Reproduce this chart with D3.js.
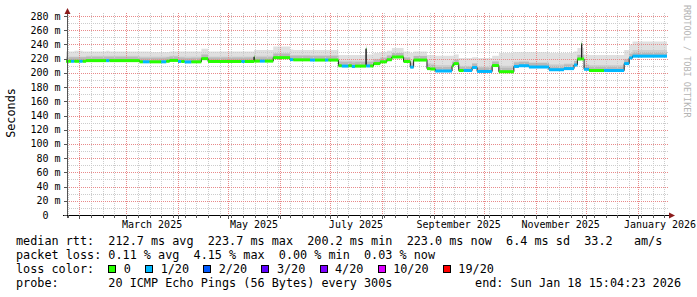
<!DOCTYPE html>
<head>
  <meta charset="utf-8" />
  <script src="https://cdn.jsdelivr.net/npm/d3@7"></script>
  <style>
    body { margin: 0; background: #fff; }
    svg { display: block; font-family: "DejaVu Sans Mono", monospace; }
  </style>
</head>
<body>
  <svg width="697" height="297"></svg>
  <script>
    // time window of the graph
    const startTime = new Date(2025, 0, 24, 14, 0);
    const endTime = new Date(2026, 0, 18, 15, 4, 23);

    // step data: each value holds from its date to the next one
    const segStart = [
      "2025-01-24", "2025-01-27", "2025-01-29", "2025-02-01", "2025-02-03", "2025-02-05",
      "2025-02-17", "2025-02-19", "2025-03-09", "2025-03-11", "2025-03-15", "2025-03-22",
      "2025-03-25", "2025-03-27", "2025-04-01", "2025-04-03", "2025-04-05", "2025-04-09",
      "2025-04-15", "2025-04-19", "2025-05-09", "2025-05-11", "2025-05-16 12:00", "2025-05-16 16:00",
      "2025-05-20", "2025-05-23", "2025-05-28", "2025-06-07", "2025-06-09", "2025-06-19",
      "2025-06-22", "2025-06-28", "2025-06-30", "2025-07-06", "2025-07-08", "2025-07-12",
      "2025-07-14", "2025-07-16", "2025-07-22 12:00", "2025-07-22 15:00", "2025-07-25", "2025-07-27",
      "2025-07-31", "2025-08-04", "2025-08-07", "2025-08-14", "2025-08-18", "2025-08-20",
      "2025-08-28", "2025-08-30", "2025-09-02", "2025-09-12", "2025-09-13", "2025-09-16",
      "2025-09-19", "2025-09-24", "2025-09-27", "2025-10-06", "2025-10-10", "2025-10-19",
      "2025-10-22", "2025-10-28", "2025-11-09", "2025-11-18", "2025-11-24", "2025-11-26",
      "2025-11-28 12:00", "2025-11-28 15:00", "2025-11-30", "2025-12-03", "2025-12-12", "2025-12-24",
      "2025-12-27", "2025-12-29"
    ];
    // median rtt in ms
    const median = [
      216.3, 216.3, 216.3, 216.3, 216.3, 217.2,
      217.2, 217.2, 215.5, 215.5, 215.5, 215.5,
      216.3, 217.5, 216.0, 216.0, 215.3, 215.5,
      220.0, 216.0, 216.0, 216.0, 222.5, 216.5,
      216.5, 216.5, 221.4, 218.6, 218.3, 218.0,
      218.0, 218.0, 218.0, 210.0, 209.5, 210.0,
      209.0, 209.5, 234.0, 209.7, 209.7, 213.0,
      215.5, 218.5, 222.3, 216.0, 208.0, 218.0,
      206.0, 205.4, 202.6, 210.0, 213.0, 203.3,
      203.3, 207.5, 202.0, 210.3, 201.6, 209.0,
      210.0, 208.2, 204.4, 206.0, 211.0, 219.5,
      241.0, 219.5, 205.0, 203.3, 203.3, 213.0,
      221.0, 223.5
    ];
    // highest ping (top of the smoke)
    const pingMax = [
      230, 230, 231, 231, 230, 230,
      231, 230, 230, 230, 229, 229,
      229, 230, 230, 230, 230, 230,
      234, 230, 230, 230, 232, 232,
      232, 232, 237, 233, 232, 232,
      232, 232, 232, 225, 225, 225,
      225, 225, 238, 226, 226, 228,
      229, 231, 235, 230, 228, 230,
      225, 225, 224, 224, 226, 221,
      221, 222, 221, 224, 228, 229,
      229, 229, 228, 228, 230, 235,
      245, 235, 226, 225, 225, 232,
      240, 244
    ];
    // upper quartile ping (top of the darker smoke)
    const pingQ3 = [
      223, 223, 223, 223, 223, 224,
      224, 224, 223, 223, 223, 223,
      223, 224, 223, 223, 223, 223,
      227, 223, 223, 223, 226, 224,
      224, 224, 228, 225, 225, 225,
      225, 225, 225, 217, 217, 217,
      217, 217, 236, 217, 217, 220,
      222, 225, 228, 222, 216, 224,
      214, 213, 211, 216, 218, 210,
      210, 213, 209, 216, 210, 216,
      216, 215, 212, 213, 217, 226,
      243, 226, 212, 211, 211, 220,
      228, 232
    ];
    // index into lossColors
    const lossIdx = [
      0, 1, 0, 1, 0, 0,
      1, 0, 0, 1, 0, 1,
      0, 0, 1, 0, 1, 0,
      0, 0, 1, 0, 0, 0,
      1, 0, 0, 1, 0, 1,
      0, 1, 0, 0, 1, 0,
      1, 0, 0, 1, 0, 0,
      0, 0, 0, 0, 1, 0,
      0, 0, 1, 0, 0, 0,
      1, 1, 1, 0, 0, 1,
      1, 1, 1, 1, 1, 0,
      0, 0, 1, 0, 1, 1,
      1, 1
    ];

    const lossLabels = ["0", "1/20", "2/20", "3/20", "4/20", "10/20", "19/20"];
    const lossColors = ["#26ff00", "#00b8ff", "#0059ff", "#5e00ff", "#7e00ff", "#dd00ff", "#ff0000"];
    const yTicks = [0, 20, 40, 60, 80, 100, 120, 140, 160, 180, 200, 220, 240, 260, 280];

    const legendRows = [
      "median rtt:  212.7 ms avg  223.7 ms max  200.2 ms min  223.0 ms now  6.4 ms sd  33.2   am/s",
      "packet loss: 0.11 % avg  4.15 % max  0.00 % min  0.03 % now",
      "loss color:",
      "probe:       20 ICMP Echo Pings (56 Bytes) every 300s"
    ];
    const endLabel = "end: Sun Jan 18 15:04:23 2026";

    const parseDay = d3.timeParse("%Y-%m-%d");
    const parseHM = d3.timeParse("%Y-%m-%d %H:%M");
    const toDate = s => s.length > 10 ? parseHM(s) : parseDay(s);

    const plotL = 67, plotR = 667, plotB = 215, plotT = 16;
    const x = d3.scaleTime().domain([startTime, endTime]).range([plotL, plotR]);
    const y = d3.scaleLinear().domain([0, 280]).range([plotB, plotT]);

    const pts = segStart.map((s, i) => ({
      t: toDate(s), med: median[i], max: pingMax[i], q3: pingQ3[i], loss: lossIdx[i]
    }));
    const stepPts = pts.concat([Object.assign({}, pts[pts.length - 1], { t: endTime })]);

    const svg = d3.select("svg");
    svg.append("rect").attr("width", 697).attr("height", 297).attr("fill", "#fff");

    // smoke
    const smoke = (hi) => d3.area().curve(d3.curveStepAfter)
      .x(d => x(d.t)).y0(d => y(d.med)).y1(hi);
    svg.append("path").datum(stepPts).attr("fill", "#e0e0e0").attr("d", smoke(d => y(d.max)));
    svg.append("path").datum(stepPts).attr("fill", "#cfcfcf").attr("d", smoke(d => y(d.q3)));
    svg.append("path").datum(stepPts).attr("fill", "#b9b9b9").attr("d", smoke(d => y(d.med) - 4));

    // grid, drawn over the smoke
    const grid = svg.append("g").attr("shape-rendering", "crispEdges");
    const weeks = d3.timeSaturday.range(startTime, endTime);
    const months = d3.timeMonth.range(startTime, endTime);
    grid.selectAll(".wk").data(weeks).join("line")
      .attr("x1", d => Math.round(x(d)) + 0.5).attr("x2", d => Math.round(x(d)) + 0.5)
      .attr("y1", 13).attr("y2", plotB)
      .attr("stroke", "#cccccc").attr("stroke-dasharray", "1,1");
    const minorY = d3.range(10, 281, 20);
    grid.selectAll(".hy").data(minorY).join("line")
      .attr("x1", plotL).attr("x2", plotR + 1)
      .attr("y1", d => Math.round(y(d)) + 0.5).attr("y2", d => Math.round(y(d)) + 0.5)
      .attr("stroke", "#cccccc").attr("stroke-dasharray", "1,1");
    grid.selectAll(".mo").data(months).join("line")
      .attr("x1", d => Math.round(x(d)) + 0.5).attr("x2", d => Math.round(x(d)) + 0.5)
      .attr("y1", 13).attr("y2", plotB)
      .attr("stroke", "#e88a8a").attr("stroke-dasharray", "1,1");
    grid.selectAll(".my").data(yTicks.slice(1)).join("line")
      .attr("x1", plotL).attr("x2", plotR + 1)
      .attr("y1", d => Math.round(y(d)) + 0.5).attr("y2", d => Math.round(y(d)) + 0.5)
      .attr("stroke", "#e88a8a").attr("stroke-dasharray", "1,1");

    // median line (only the jumps stay visible) and the loss coloured band
    svg.append("path").datum(stepPts)
      .attr("fill", "none").attr("stroke", "#202020").attr("stroke-width", 1)
      .attr("d", d3.line().curve(d3.curveStepAfter).x(d => x(d.t)).y(d => y(d.med)));
    svg.append("g").selectAll("rect").data(pts).join("rect")
      .attr("x", d => x(d.t))
      .attr("width", (d, i) => x(stepPts[i + 1].t) - x(d.t))
      .attr("y", d => y(d.med) - 1.5)
      .attr("height", 3)
      .attr("fill", d => lossColors[d.loss]);

    // axes
    const ax = svg.append("g").attr("shape-rendering", "crispEdges");
    ax.append("line").attr("x1", plotL + 0.5).attr("x2", plotL + 0.5).attr("y1", 13).attr("y2", 218)
      .attr("stroke", "#555");
    ax.append("line").attr("x1", 63).attr("x2", 669).attr("y1", plotB + 0.5).attr("y2", plotB + 0.5)
      .attr("stroke", "#000");
    ax.selectAll(".yt").data(yTicks).join("line")
      .attr("x1", 63.5).attr("x2", plotL)
      .attr("y1", d => Math.round(y(d)) + 0.5).attr("y2", d => Math.round(y(d)) + 0.5)
      .attr("stroke", "#555");
    ax.selectAll(".wt").data(weeks).join("line")
      .attr("x1", d => Math.round(x(d)) + 0.5).attr("x2", d => Math.round(x(d)) + 0.5)
      .attr("y1", plotB).attr("y2", plotB + 2.5).attr("stroke", "#555");
    ax.selectAll(".mt").data(months).join("line")
      .attr("x1", d => Math.round(x(d)) + 0.5).attr("x2", d => Math.round(x(d)) + 0.5)
      .attr("y1", plotB).attr("y2", plotB + 3.5).attr("stroke", "#555");

    // arrows
    svg.append("path").attr("fill", "#8b1c1c")
      .attr("d", `M${plotL + 0.5},8 L${plotL + 3.5},14 L${plotL - 2.5},14 Z`);
    svg.append("path").attr("fill", "#8b1c1c")
      .attr("d", `M675,${plotB + 0.5} L669,${plotB - 2.5} L669,${plotB + 3.5} Z`);

    // y labels
    svg.append("g").selectAll("text").data(yTicks).join("text")
      .attr("x", d => d === 0 ? 48.5 : 60.5)
      .attr("y", d => y(d) + 3.5)
      .attr("text-anchor", "end")
      .attr("font-size", "10px").attr("fill", "#000")
      .text(d => d === 0 ? "0" : d + " m");

    // x labels, every second month, centred in the month (kept inside the picture)
    const fmt = d3.timeFormat("%B %Y");
    const labelMonths = d3.timeMonth.range(startTime, endTime).filter(d => d.getMonth() % 2 === 0);
    svg.append("g").selectAll("text").data(labelMonths).join("text")
      .attr("x", d => Math.min(660, (x(d) + x(d3.timeMonth.offset(d, 1))) / 2))
      .attr("y", 227.5)
      .attr("text-anchor", "middle")
      .attr("font-size", "10px").attr("fill", "#000")
      .text(d => fmt(d));

    svg.append("text")
      .attr("transform", "translate(15,113) rotate(-90)")
      .attr("text-anchor", "middle")
      .attr("font-size", "11.8px").attr("fill", "#000")
      .text("Seconds");

    svg.append("text")
      .attr("transform", "translate(683.5,5) rotate(90)")
      .attr("font-size", "8.5px").attr("fill", "#b4b4b4")
      .text("RRDTOOL / TOBI OETIKER");

    // legend
    const cw = 11.8 * 0.602;
    const rowY = [245, 259, 273, 286.5];
    svg.append("g").selectAll("text").data(legendRows).join("text")
      .attr("x", 16).attr("y", (d, i) => rowY[i])
      .attr("font-size", "11.8px").attr("fill", "#000")
      .style("white-space", "pre")
      .text(d => d);
    svg.append("text")
      .attr("x", 681).attr("y", rowY[3]).attr("text-anchor", "end")
      .attr("font-size", "11.8px").attr("fill", "#000")
      .style("white-space", "pre")
      .text(endLabel);

    let bx = 16 + 13 * cw;
    const lg = svg.append("g");
    lossLabels.forEach((lab, i) => {
      lg.append("rect")
        .attr("x", Math.round(bx) + 0.5).attr("y", 265.5).attr("width", 7).attr("height", 7)
        .attr("fill", lossColors[i]).attr("stroke", "#000").attr("stroke-width", 1)
        .attr("shape-rendering", "crispEdges");
      const tx = bx + 15.5;
      lg.append("text").attr("x", tx).attr("y", rowY[2])
        .attr("font-size", "11.8px").attr("fill", "#000").text(lab);
      bx = tx + lab.length * cw + 2 * cw;
    });
  </script>
</body>
